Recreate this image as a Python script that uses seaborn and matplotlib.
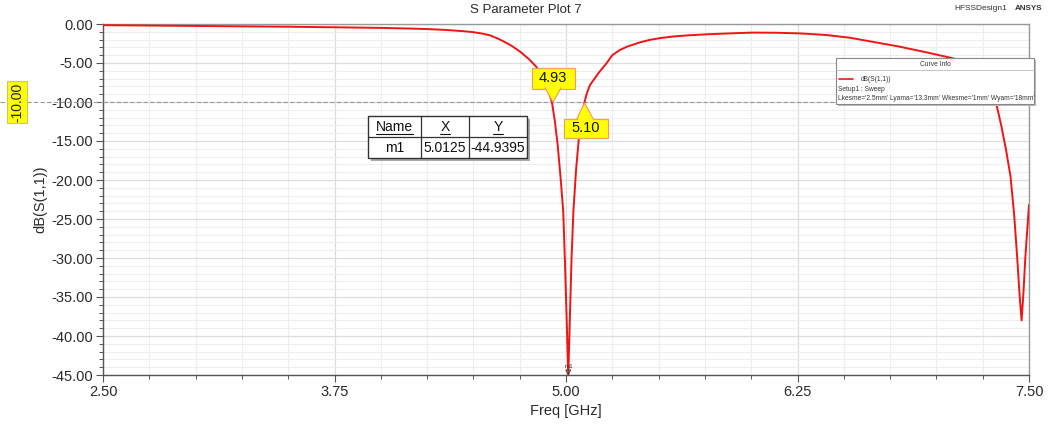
import numpy as np
import pandas as pd
import matplotlib
matplotlib.use("Agg")
import matplotlib.pyplot as plt
import seaborn as sns
from matplotlib.patches import Rectangle, Polygon
from matplotlib.lines import Line2D
from matplotlib.ticker import MultipleLocator, FormatStrFormatter

# ---------------- data ----------------
freq_ghz = [2.50, 2.75, 3.00, 3.25, 3.50, 3.75, 4.00, 4.15, 4.25, 4.35, 4.45, 4.50,
            4.55, 4.59, 4.64, 4.70, 4.75, 4.80, 4.84, 4.865, 4.887, 4.905, 4.924,
            4.94, 4.955, 4.97, 4.985, 4.995, 5.005, 5.0125, 5.02, 5.03, 5.04, 5.055,
            5.07, 5.085, 5.10, 5.113, 5.13, 5.157, 5.18, 5.22, 5.25, 5.29, 5.33,
            5.40, 5.45, 5.51, 5.58, 5.65, 5.76, 5.886, 6.01, 6.13, 6.26, 6.40, 6.53, 6.66,
            6.80, 6.94, 7.09, 7.20, 7.28, 7.327, 7.35, 7.375, 7.40, 7.42, 7.435, 7.45,
            7.46, 7.47, 7.48, 7.50]
s11_db = [-0.15, -0.20, -0.25, -0.30, -0.35, -0.42, -0.50, -0.58, -0.65, -0.76, -0.93, -1.05,
          -1.24, -1.45, -1.95, -2.70, -3.50, -4.50, -5.50, -6.40, -7.50, -8.60, -10.00,
          -12.50, -15.50, -19.50, -24.0, -31.0, -39.0, -44.9395, -38.5, -30.0, -24.0, -18.5,
          -14.5, -11.8, -10.00, -8.85, -7.80, -6.90, -6.15, -5.00, -4.00, -3.35, -2.90,
          -2.35, -2.05, -1.80, -1.60, -1.47, -1.32, -1.20, -1.10, -1.12, -1.20, -1.40, -1.75, -2.30,
          -2.90, -3.60, -4.40, -6.20, -8.50, -10.60, -13.0, -16.0, -19.5, -24.5, -29.5, -35.0,
          -38.0, -34.5, -30.0, -23.2]

marker_names = ["m1"]
marker_x = [5.0125]
marker_y = [-44.9395]
crossing_x = [4.93, 5.10]
crossing_labels = ["4.93", "5.10"]
crossing_level = -10.0
x_ticks = [2.50, 3.75, 5.00, 6.25, 7.50]
y_ticks = [0, -5, -10, -15, -20, -25, -30, -35, -40, -45]
title = "S Parameter Plot 7"
x_label = "Freq [GHz]"
y_label = "dB(S(1,1))"
curve_name = "dB(S(1,1))"
setup_text = "Setup1 : Sweep"
param_text = "Lkesme='2.5mm' Lyama='13.3mm' Wkesme='1mm' Wyam='18mm'"
table_header = ["Name", "X", "Y"]
table_row = [marker_names[0], f"{marker_x[0]:.4f}", f"{marker_y[0]:.4f}"]

# ---------------- style ----------------
W, H = 1051, 428
sns.set_style("white")
plt.rcParams['font.family'] = ['Liberation Sans', 'DejaVu Sans']
plt.rcParams['axes.unicode_minus'] = False

fig = plt.figure(figsize=(W / 100, H / 100), dpi=100)
fig.patch.set_facecolor("white")
ax = fig.add_axes([103 / W, 1 - 375 / H, (1029 - 103) / W, (375 - 24) / H])

df = pd.DataFrame({"Freq": freq_ghz, "dB": s11_db})
sns.lineplot(data=df, x="Freq", y="dB", ax=ax, color="#f01414", lw=1.4,
             estimator=None, sort=False, zorder=5)

ax.set_xlim(2.5, 7.5)
ax.set_ylim(-45, 0)
ax.set_xticks(x_ticks)
ax.set_yticks(y_ticks)
ax.xaxis.set_minor_locator(MultipleLocator(0.25))
ax.yaxis.set_minor_locator(MultipleLocator(1))
ax.xaxis.set_major_formatter(FormatStrFormatter("%.2f"))
ax.yaxis.set_major_formatter(FormatStrFormatter("%.2f"))
ax.grid(which="minor", color="#eeeeee", lw=0.8)
ax.grid(which="major", color="#dddddd", lw=0.9)
ax.set_axisbelow(True)
ax.tick_params(axis="both", which="major", direction="out", length=5, width=0.8,
               color="#555555", labelsize=10.5, labelcolor="#2a2a2a", pad=2)
ax.tick_params(axis="both", which="minor", direction="out", length=3, width=0.7,
               color="#555555")
ax.tick_params(left=True, bottom=True, which="both")
for s in ["left", "bottom"]:
    ax.spines[s].set_color("#555555")
    ax.spines[s].set_linewidth(1.0)
for s in ["top", "right"]:
    ax.spines[s].set_color("#999999")
    ax.spines[s].set_linewidth(1.0)
ax.set_xlabel(x_label, fontsize=10.5, color="#2a2a2a", labelpad=4)
ax.set_ylabel(y_label, fontsize=10.5, color="#2a2a2a")
ax.yaxis.set_label_coords((47 - 103) / (1029 - 103), 0.5)

fig.text(526 / W, 1 - 10 / H, title, ha="center", va="center", fontsize=9.5, color="#2a2a2a")
fig.text(981 / W, 1 - 9 / H, "HFSSDesign1", ha="center", va="center", fontsize=6, color="#333333")
fig.text(1029 / W, 1 - 8.5 / H, "ANSYS", ha="center", va="center", fontsize=5.8, weight="bold", color="#333333")

fig.canvas.draw()


def d2p(x, y):
    X, Y = ax.transData.transform((x, y))
    return X, H - Y


def F(x, y):
    return (x / W, 1 - y / H)


def rect(x0, y0, x1, y1, fc, ec, lw=0.8, z=10):
    r = Rectangle(F(x0, y1), (x1 - x0) / W, (y1 - y0) / H, transform=fig.transFigure,
                  facecolor=fc, edgecolor=ec, lw=lw, zorder=z)
    fig.add_artist(r)


def fline(xs, ys, color, lw=0.8, ls="-", z=10):
    fig.add_artist(Line2D([x / W for x in xs], [1 - y / H for y in ys], color=color,
                          lw=lw, ls=ls, transform=fig.transFigure, zorder=z))


# -10 dB dashed reference line
ax.axhline(crossing_level, color="#999999", lw=0.8, ls=(0, (4, 2)), zorder=3)
_, yl = d2p(2.5, crossing_level)
fline([0, 103], [yl, yl], "#999999", lw=0.8, ls=(0, (4, 2)), z=2)
rect(7, yl - 21, 27, yl + 21, "#ffff00", "#c8c870", lw=0.8)
fig.text(17 / W, 1 - yl / H, f"{crossing_level:.2f}", rotation=90, ha="center", va="center",
         fontsize=10, color="#222222", zorder=11)

# crossing markers
for i, (cx, lab) in enumerate(zip(crossing_x, crossing_labels)):
    tx, ty = d2p(cx, crossing_level)
    if i == 0:
        bx, by, bw, bh = tx, ty - 23.5, 43, 21
        tri = [(tx - 8, by + bh / 2 - 1), (tx + 8, by + bh / 2 - 1), (tx, ty)]
        sgn = 1
    else:
        bx, by, bw, bh = tx + 1, ty + 26, 44, 19
        tri = [(tx - 8, by - bh / 2 + 1), (tx + 9, by - bh / 2 + 1), (tx, ty + 1)]
        sgn = -1
    rect(bx - bw / 2, by - bh / 2, bx + bw / 2, by + bh / 2, "#ffff00", "#f0a060", lw=0.9, z=12)
    fig.add_artist(Polygon([F(*p) for p in tri], closed=True, transform=fig.transFigure,
                           facecolor="#ffff00", edgecolor="#f0a060", lw=0.9, zorder=12))
    cover = [(tri[0][0] + 1, tri[0][1] + sgn * 1), (tri[1][0] - 1, tri[1][1] + sgn * 1),
             (tri[1][0] - 1, tri[1][1] - sgn * 2), (tri[0][0] + 1, tri[0][1] - sgn * 2)]
    fig.add_artist(Polygon([F(*p) for p in cover], closed=True, transform=fig.transFigure,
                           facecolor="#ffff00", edgecolor="none", zorder=13))
    fig.text(bx / W, 1 - by / H, lab, ha="center", va="center", fontsize=10.5,
             color="#111111", zorder=14)

# m1 marker
mx, my = d2p(marker_x[0], marker_y[0])
fig.add_artist(Polygon([F(mx - 2.5, my - 4.5), F(mx + 2.5, my - 4.5), F(mx, my)], closed=True,
                       transform=fig.transFigure, facecolor="none", edgecolor="#333333",
                       lw=0.6, zorder=12))
fig.text((mx + 1) / W, 1 - (my - 8) / H, marker_names[0], ha="center", va="center",
         fontsize=4.5, color="#333333", zorder=12)

# marker table
tx0, ty0, tx1, ty1 = 368, 116, 527, 158
rect(tx0 + 3, ty0 + 3, tx1 + 3, ty1 + 3, "#aaaaaa", "none", z=14)
rect(tx0, ty0, tx1, ty1, "white", "#333333", lw=1.0, z=15)
cols = [368, 421, 469, 527]
rowy = 137
fline([tx0, tx1], [rowy, rowy], "#333333", lw=0.9, z=16)
for cxp in cols[1:-1]:
    fline([cxp, cxp], [ty0, ty1], "#333333", lw=0.9, z=16)
for j in range(3):
    cxm = (cols[j] + cols[j + 1]) / 2
    t = fig.text(cxm / W, 1 - 127 / H, table_header[j], ha="center", va="center",
                 fontsize=10, color="#111111", zorder=17)
    fig.text(cxm / W, 1 - 148 / H, table_row[j], ha="center", va="center",
             fontsize=10, color="#111111", zorder=17)
    fig.canvas.draw()
    bb = t.get_window_extent()
    fline([bb.x0, bb.x1], [133.5, 133.5], "#111111", lw=0.8, z=17)

# curve info legend
lx0, ly0, lx1, ly1 = 836, 58, 1034, 104
rect(lx0 + 2, ly0 + 2, lx1 + 2, ly1 + 2, "#bbbbbb", "none", z=14)
rect(lx0, ly0, lx1, ly1, "white", "#888888", lw=0.8, z=15)
fline([lx0, lx1], [70, 70], "#bbbbbb", lw=0.6, z=16)
fig.text((lx0 + lx1) / 2 / W, 1 - 65 / H, "Curve Info", ha="center", va="center",
         fontsize=4.8, color="#333333", zorder=17)
fline([839, 853], [79, 79], "#f01414", lw=1.2, z=17)
fig.text(861 / W, 1 - 79.5 / H, curve_name, ha="left", va="center", fontsize=4.8,
         color="#333333", zorder=17)
fig.text(838 / W, 1 - 89.5 / H, setup_text, ha="left", va="center", fontsize=4.8,
         color="#333333", zorder=17)
fig.text(838 / W, 1 - 99 / H, param_text, ha="left", va="center", fontsize=4.8,
         color="#333333", zorder=17)

fig.savefig("out.png", dpi=100)
